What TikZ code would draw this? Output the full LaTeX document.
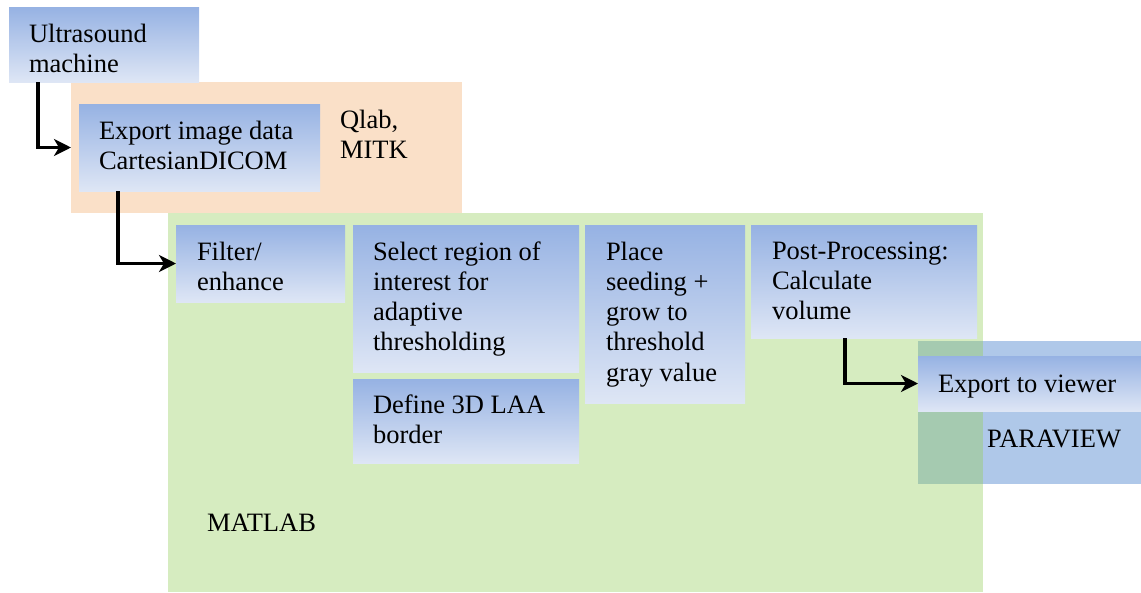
\documentclass[tikz,border=0pt]{standalone}
\usepackage{fontspec}
\setmainfont{Liberation Serif}
\newfontfamily\tnr{Liberation Serif}
\usetikzlibrary{arrows.meta}
\definecolor{gtop}{RGB}{150,178,227}
\definecolor{gbot}{RGB}{222,230,245}
\definecolor{orangebg}{RGB}{250,224,200}
\definecolor{greenbg}{RGB}{214,236,192}
\definecolor{parablue}{RGB}{175,200,233}
\definecolor{overlapc}{RGB}{165,202,176}
\tikzset{
  region/.style={anchor=north west, inner sep=0pt, outer sep=0pt, draw=none},
  stepbox/.style={region, top color=gtop, bottom color=gbot},
  lbl/.style={anchor=base west, inner sep=0pt, outer sep=0pt, font=\tnr\fontsize{26.5}{30.3}\selectfont},
  arr/.style={line width=3.6pt, -{Stealth[length=17pt,width=17pt,inset=5pt]}},
}
\newcommand{\lines}[1]{\parbox[t]{300pt}{\raggedright #1}}
\begin{document}
\begin{tikzpicture}[x=1pt,y=-1pt]
\useasboundingbox (0,0) rectangle (1141,592);
% group regions
\node[region, fill=orangebg, minimum width=391pt, minimum height=131pt] (qlab) at (71,82) {};
\node[region, fill=greenbg, minimum width=815pt, minimum height=379pt] (matlab) at (168,213) {};
\node[region, fill=parablue, minimum width=223pt, minimum height=143pt] (para) at (918,341) {};
\node[region, fill=overlapc, minimum width=65pt, minimum height=143pt] (overlap) at (918,341) {};
% step boxes
\node[stepbox, minimum width=190pt, minimum height=75pt] (us) at (9,7) {};
\node[stepbox, minimum width=241pt, minimum height=87pt] (export) at (79,104) {};
\node[stepbox, minimum width=169pt, minimum height=77pt] (filter) at (176,225) {};
\node[stepbox, minimum width=226pt, minimum height=147pt] (select) at (353,225) {};
\node[stepbox, minimum width=226pt, minimum height=84pt] (define) at (353,379) {};
\node[stepbox, minimum width=160pt, minimum height=178pt] (place) at (585,225) {};
\node[stepbox, minimum width=226pt, minimum height=113pt] (post) at (751,225) {};
\node[stepbox, minimum width=223pt, minimum height=55pt] (viewer) at (918,356) {};
% labels
\node[lbl] (usT) at (29,42) {\lines{Ultrasound\\machine}};
\node[lbl] (exportT) at (99,139) {\lines{Export image data\\CartesianDICOM}};
\node[lbl] (qlabT) at (340,128) {\lines{Qlab,\\MITK}};
\node[lbl] (filterT) at (197,260) {\lines{Filter/\\enhance}};
\node[lbl] (selectT) at (373,260) {\lines{Select region of\\interest for\\adaptive\\thresholding}};
\node[lbl] (defineT) at (373,413) {\lines{Define 3D LAA\\border}};
\node[lbl] (placeT) at (606,260) {\lines{Place\\seeding +\\grow to\\threshold\\gray value}};
\node[lbl] (postT) at (772,259) {\lines{Post-Processing:\\Calculate\\volume}};
\node[lbl] (viewerT) at (938,392) {Export to viewer};
\node[lbl] (paraT) at (987,447) {PARAVIEW};
\node[lbl] (matlabT) at (207,531) {MATLAB};
% connectors
\draw[arr] ([xshift=29pt]us.south west) |- (qlab.west |- export.west);
\draw[arr] ([xshift=39pt]export.south west) |- (filter.west);
\draw[arr] ([xshift=94pt]post.south west) |- (viewer.west);
\end{tikzpicture}
\end{document}
